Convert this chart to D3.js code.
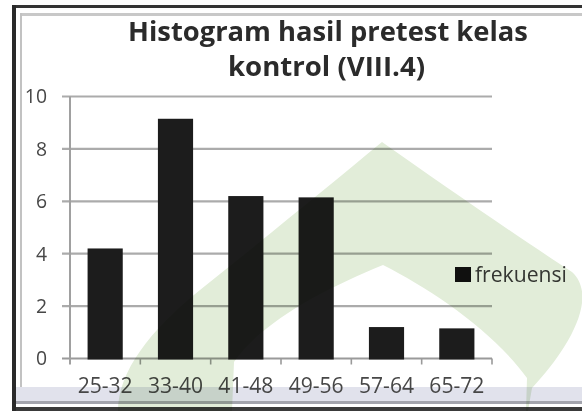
<!DOCTYPE html>
<html>
<head>
<meta charset="utf-8">
<script src="https://cdn.jsdelivr.net/npm/d3@7"></script>
<style>
  html, body { margin: 0; padding: 0; background: #ffffff; }
  svg { display: block; }
</style>
</head>
<body>
<svg id="chart" width="582" height="411"></svg>
<script>
// ---- data ----
const categories = ["25-32", "33-40", "41-48", "49-56", "57-64", "65-72"];
const frekuensi = [4.2, 9.15, 6.2, 6.15, 1.2, 1.15];
const yTicks = [0, 2, 4, 6, 8, 10];
const titleLines = ["Histogram hasil pretest kelas", "kontrol (VIII.4)"];
const seriesName = "frekuensi";

const svg = d3.select("#chart");
const W = 582, H = 411;
const font = "'Open Sans', 'Liberation Sans', sans-serif";

// plot area
const plot = { left: 70, right: 492, top: 96.5, bottom: 358.5 };

const x = d3.scaleBand().domain(categories)
  .range([plot.left, plot.right]).paddingInner(0.5).paddingOuter(0.25);
const xEdges = d3.scaleBand().domain(categories)
  .range([plot.left, plot.right]).padding(0);
const y = d3.scaleLinear().domain([0, 10]).range([plot.bottom, plot.top]);

function fit(sel, target) {
  const w = sel.node().getComputedTextLength();
  const fs = parseFloat(sel.attr("font-size"));
  sel.attr("font-size", (fs * target / w).toFixed(2));
}

// background
svg.append("rect").attr("width", W).attr("height", H).attr("fill", "#ffffff");

// bottom band / frame (behind labels)
svg.append("rect").attr("x", 16).attr("y", 387).attr("width", W - 16).attr("height", 14)
  .attr("fill", "#e1e2ec");
svg.append("rect").attr("x", 16).attr("y", 401).attr("width", W - 16).attr("height", 3)
  .attr("fill", "#a3a4ad");
svg.append("rect").attr("x", 12).attr("y", 407).attr("width", W - 12).attr("height", 4)
  .attr("fill", "#3a3a3a");
svg.append("rect").attr("x", 12).attr("y", 5).attr("width", W - 12).attr("height", 3)
  .attr("fill", "#333333");
svg.append("rect").attr("x", 20).attr("y", 13).attr("width", W - 20).attr("height", 3)
  .attr("fill", "#c8c8c8");
svg.append("rect").attr("x", 12).attr("y", 5).attr("width", 4).attr("height", H - 5)
  .attr("fill", "#2a2a2a");
svg.append("rect").attr("x", 20).attr("y", 13).attr("width", 2).attr("height", 374)
  .attr("fill", "#c2c2c2");

// gridlines
svg.append("g").selectAll("line").data(yTicks).join("line")
  .attr("x1", plot.left - 8).attr("x2", plot.right)
  .attr("y1", d => y(d)).attr("y2", d => y(d))
  .attr("stroke", d => d === 0 ? "#9a9a9a" : "#ababab")
  .attr("stroke-width", 2.2);

// y axis line
svg.append("line")
  .attr("x1", plot.left).attr("x2", plot.left)
  .attr("y1", y(10)).attr("y2", plot.bottom + 6)
  .attr("stroke", "#a0a0a0").attr("stroke-width", 2);

// x ticks at category boundaries
const bounds = categories.map(c => xEdges(c) + xEdges.bandwidth());
svg.append("g").selectAll("line").data(bounds).join("line")
  .attr("x1", d => d).attr("x2", d => d)
  .attr("y1", plot.bottom).attr("y2", plot.bottom + 6)
  .attr("stroke", "#9a9a9a").attr("stroke-width", 1.6);

// bars
svg.append("g").selectAll("rect").data(frekuensi).join("rect")
  .attr("x", (d, i) => x(categories[i]))
  .attr("width", x.bandwidth())
  .attr("y", d => y(d))
  .attr("height", d => y(0) - y(d) + 1)
  .attr("fill", "#1c1c1c");

// y tick labels
const yl = svg.append("g").selectAll("text").data(yTicks).join("text")
  .attr("x", 47).attr("y", d => y(d)).attr("dy", "0.36em")
  .attr("text-anchor", "end")
  .attr("font-family", font).attr("font-size", 18)
  .attr("fill", "#474747")
  .text(d => d);

// x labels
const xl = svg.append("g").selectAll("text").data(categories).join("text")
  .attr("x", d => xEdges(d) + xEdges.bandwidth() / 2)
  .attr("y", 393)
  .attr("text-anchor", "middle")
  .attr("font-family", font).attr("font-size", 18)
  .attr("fill", "#474747")
  .text(d => d);
const firstX = d3.select(xl.nodes()[0]);
fit(firstX, 55);
xl.attr("font-size", firstX.attr("font-size"));
yl.attr("font-size", (parseFloat(firstX.attr("font-size")) * 0.92).toFixed(2));

// title
titleLines.forEach((t, i) => {
  const tt = svg.append("text")
    .attr("x", i === 0 ? 328 : 326.5).attr("y", i === 0 ? 41 : 76)
    .attr("text-anchor", "middle")
    .attr("font-family", font).attr("font-weight", "bold")
    .attr("font-size", 26).attr("fill", "#2b2b2b")
    .text(t);
  fit(tt, i === 0 ? 400 : 197);
});

// legend
svg.append("rect").attr("x", 455).attr("y", 267).attr("width", 16).attr("height", 15)
  .attr("fill", "#111111");
const lt = svg.append("text").attr("x", 475).attr("y", 282)
  .attr("font-family", font).attr("font-size", 18).attr("fill", "#3a3a3a")
  .text(seriesName);
fit(lt, 92);

// watermark overlay (multiply)
svg.append("path")
  .attr("d", "M118,411 C118,372 150,330 200,290 C265,238 330,185 382,142 " +
             "C450,190 520,238 572,272 C600,298 566,352 532,388 L528,411 Z " +
             "M232,411 L234,362 C262,322 322,290 383,265 C432,290 492,330 527,378 L526,411 Z")
  .attr("fill-rule", "evenodd")
  .attr("fill", "#e2edd9")
  .style("mix-blend-mode", "multiply");
</script>
</body>
</html>
